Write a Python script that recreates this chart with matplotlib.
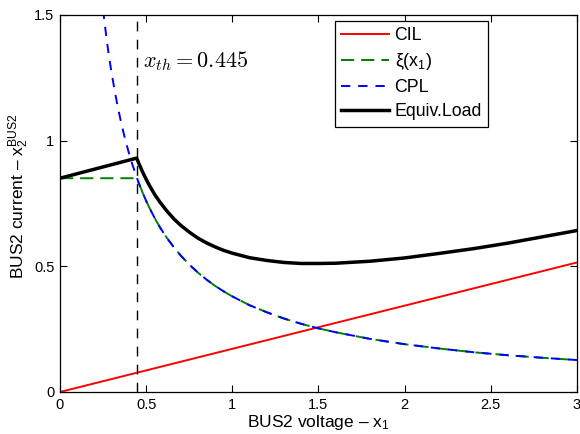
import matplotlib
matplotlib.use("Agg")
import matplotlib.pyplot as plt

plt.rcParams['font.family'] = ['Liberation Sans', 'DejaVu Sans']
plt.rcParams['mathtext.fontset'] = 'custom'
plt.rcParams['mathtext.rm'] = 'Liberation Sans'
plt.rcParams['mathtext.it'] = 'Liberation Sans'
plt.rcParams['lines.scale_dashes'] = False

# data
x_th = 0.445
x_cil = [0, 3]
cil = [0, 0.515]

x_cpl = [0.25, 0.26, 0.27, 0.28, 0.29, 0.30, 0.32, 0.34, 0.36, 0.38, 0.40, 0.42,
         0.445, 0.46, 0.48, 0.5, 0.52, 0.55, 0.58, 0.62, 0.66, 0.7, 0.75, 0.8, 0.85, 0.9, 0.95,
         1.0, 1.1, 1.2, 1.3, 1.4, 1.5, 1.6, 1.8, 2.0, 2.2, 2.4, 2.6, 2.8, 3.0]
cpl = [1.52, 1.462, 1.407, 1.357, 1.310, 1.267, 1.188, 1.118, 1.056, 1.0, 0.95, 0.905,
       0.854, 0.826, 0.792, 0.760, 0.731, 0.691, 0.655, 0.613, 0.576, 0.543, 0.507, 0.475, 0.447, 0.422, 0.400,
       0.380, 0.345, 0.317, 0.292, 0.271, 0.253, 0.2375, 0.211, 0.190, 0.173, 0.158, 0.146, 0.136, 0.127]

x_xi = [0, 0.445, 0.46, 0.48, 0.5, 0.52, 0.55, 0.58, 0.62, 0.66, 0.7, 0.75, 0.8, 0.85, 0.9, 0.95,
        1.0, 1.1, 1.2, 1.3, 1.4, 1.5, 1.6, 1.8, 2.0, 2.2, 2.4, 2.6, 2.8, 3.0]
xi = [0.85, 0.85, 0.826, 0.792, 0.760, 0.731, 0.691, 0.655, 0.613, 0.576, 0.543, 0.507, 0.475, 0.447, 0.422, 0.400,
      0.380, 0.345, 0.317, 0.292, 0.271, 0.253, 0.2375, 0.211, 0.190, 0.173, 0.158, 0.146, 0.136, 0.127]

x_eq = [0, 0.445, 0.46, 0.48, 0.5, 0.52, 0.55, 0.58, 0.62, 0.66, 0.7, 0.75, 0.8, 0.85, 0.9, 0.95,
        1.0, 1.1, 1.2, 1.3, 1.4, 1.5, 1.6, 1.8, 2.0, 2.2, 2.4, 2.6, 2.8, 3.0]
eq = [0.85, 0.930, 0.905, 0.874, 0.846, 0.820, 0.785, 0.755, 0.720, 0.689, 0.663, 0.636, 0.612, 0.593, 0.577, 0.563,
      0.552, 0.534, 0.523, 0.515, 0.511, 0.511, 0.512, 0.520, 0.533, 0.551, 0.570, 0.592, 0.617, 0.642]

fig = plt.figure(figsize=(5.8, 4.34), dpi=100)
ax = fig.add_axes([0.1034, 0.0968, 0.8914, 0.8692])

ax.plot(x_cil, cil, color='red', lw=1.4, label='CIL')
ax.plot(x_xi, xi, color=(0, 0.5, 0), lw=1.4, dashes=(9.5, 5), label=r'ξ(x$_1$)')
ax.plot(x_cpl, cpl, color='blue', lw=1.4, dashes=(6.7, 5.7), label='CPL')
ax.plot(x_eq, eq, color='black', lw=2.5, label='Equiv.Load')
ax.axvline(x_th, color='black', lw=1.0, dashes=(7, 6))

ax.text(0.48, 1.315, r'$x_{th} = 0.445$', fontsize=16, math_fontfamily='cm',
        ha='left', va='center')

ax.set_xlim(0, 3)
ax.set_ylim(0, 1.5)
ax.set_xticks([0, 0.5, 1, 1.5, 2, 2.5, 3])
ax.set_xticklabels(['0', '0.5', '1', '1.5', '2', '2.5', '3'])
ax.set_yticks([0, 0.5, 1, 1.5])
ax.set_yticklabels(['0', '0.5', '1', '1.5'])
ax.tick_params(direction='in', top=True, right=True, length=5, width=0.8, labelsize=10.5, pad=4)
for s in ax.spines.values():
    s.set_linewidth(0.9)

ax.set_xlabel(r'BUS2 voltage – x$_1$', fontsize=12.5, labelpad=1)
ax.set_ylabel(r'BUS2 current – x$_2^{\mathregular{BUS2}}$', fontsize=12.5)
ax.yaxis.set_label_coords(-0.056, 0.52)

leg = ax.legend(loc='upper left', bbox_to_anchor=(0.532, 0.984), borderaxespad=0,
                fontsize=12.8, handlelength=2.7, handletextpad=0.3, labelspacing=0.4,
                fancybox=False, framealpha=1, edgecolor='black', borderpad=0.35)
leg.get_frame().set_linewidth(0.9)

fig.savefig('out.png', dpi=100)
